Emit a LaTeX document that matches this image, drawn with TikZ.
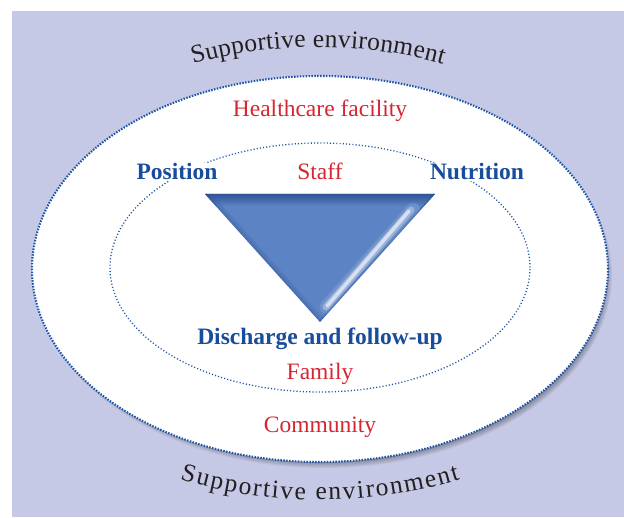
\documentclass[tikz,border=0pt]{standalone}
\usepackage{fontspec}
\setmainfont{Liberation Serif}
\usetikzlibrary{decorations.text}
\definecolor{bgpurple}{RGB}{197,201,229}
\definecolor{dotblue}{RGB}{30,84,166}
\definecolor{lblblue}{RGB}{24,76,156}
\definecolor{lblred}{RGB}{214,38,50}
\definecolor{tri}{RGB}{92,131,195}
\definecolor{tridark}{RGB}{44,80,146}
\definecolor{txtdark}{RGB}{35,31,32}
\begin{document}
\begin{tikzpicture}[x=1pt,y=1pt,
  lbl/.style={anchor=base, inner sep=1pt},
  bluelbl/.style={lbl, text=lblblue, font=\fontsize{23.5}{26}\selectfont\bfseries},
  redlbl/.style={lbl, text=lblred, font=\fontsize{23.5}{26}\selectfont},
  outerring/.style={draw=dotblue, line width=2.1pt, dash pattern=on 1.5pt off 1.4pt},
  innerring/.style={draw=dotblue, line width=1.3pt, dash pattern=on 1.1pt off 2.1pt},
  arctext/.style={decorate, decoration={text along path, text align={fit to path},
     text={|\fontsize{25.5}{28}\selectfont\color{txtdark}|#1}}}
]
\useasboundingbox (0,0) rectangle (624,517);
% background
\fill[bgpurple] (12,0) rectangle (624,506);
% shadow of the outer ellipse
\foreach \k in {0,...,8}{
  \fill[black, opacity=0.05] (324,242) ellipse [x radius={280+\k}, y radius={185+\k}];
}
% outer ellipse
\fill[white] (320,248) ellipse [x radius=288, y radius=193];
\path[outerring] (320,248) ellipse [x radius=288, y radius=193];
% inner ellipse
\path[innerring] (320,249.5) ellipse [x radius=210, y radius=124.5];
% triangle
\coordinate (tl) at (205,323);
\coordinate (tr) at (435,323);
\coordinate (bt) at (320,195);
\fill[tri] (tl) -- (tr) -- (bt) -- cycle;
\begin{scope}
  \clip (tl) -- (tr) -- (bt) -- cycle;
  \shade[top color=tridark, bottom color=tri] (200,324) rectangle (440,311);
  \draw[tridark, opacity=0.18, line width=10pt] (tl) -- (bt);
  \draw[tridark, opacity=0.22, line width=4pt] (tl) -- (bt);
  \draw[white, opacity=0.12, line width=13pt, line cap=round] (413,308) -- (326,210);
  \draw[white, opacity=0.3, line width=7pt, line cap=round] (411,307) -- (326,210);
  \draw[white, opacity=0.6, line width=3.5pt, line cap=round] (409,306) -- (327,211);
  \draw[tridark, opacity=0.35, line width=3pt] (tr) -- (bt);
\end{scope}
% labels
\node[redlbl] (hf) at (320,400) {Healthcare facility};
\node[bluelbl, fill=white] (pos) at (177,337) {Position};
\node[redlbl] (staff) at (320,337) {Staff};
\node[bluelbl, fill=white] (nut) at (477,337) {Nutrition};
\node[bluelbl] (dis) at (320,172) {Discharge and follow-up};
\node[redlbl] (fam) at (320,137) {Family};
\node[redlbl] (com) at (320,84) {Community};
% curved texts
\path[arctext={Supportive environment}] (318,2) ++(105.49:468) arc[start angle=105.49, end angle=74.51, radius=468];
\path[arctext={Supportive environment}] (320,506) ++(253.36:489) arc[start angle=253.36, end angle=286.64, radius=489];
\end{tikzpicture}
\end{document}
